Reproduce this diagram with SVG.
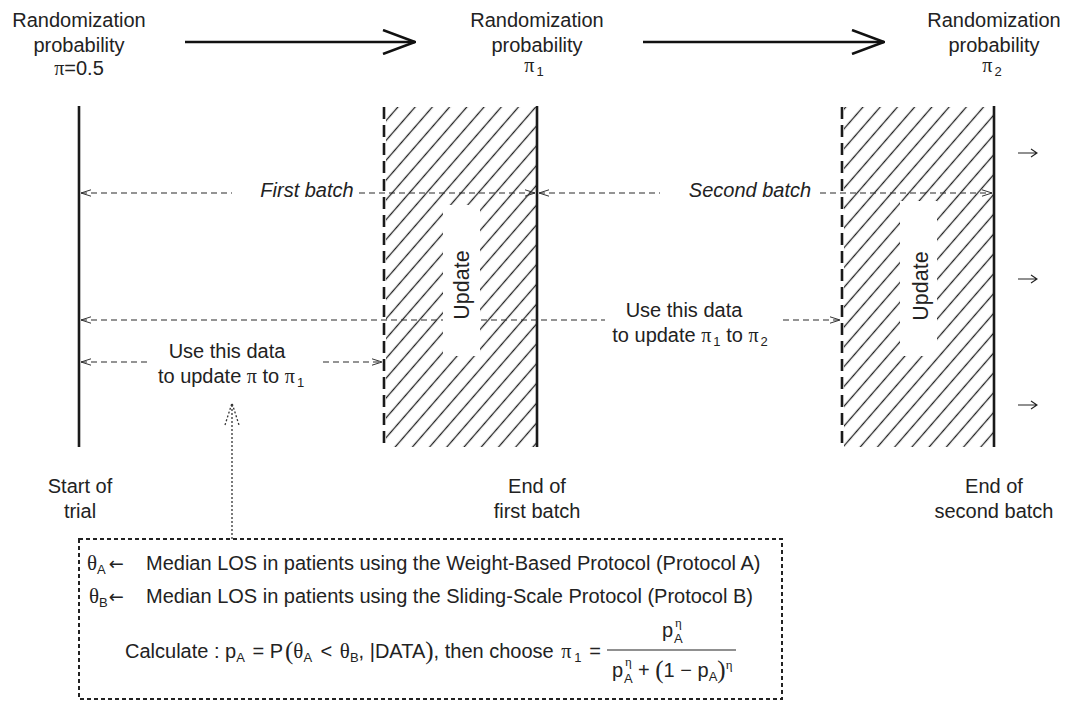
<svg xmlns="http://www.w3.org/2000/svg" width="1070" height="702" viewBox="0 0 1070 702">
<style>
text{font-family:"Liberation Sans",Arial,sans-serif;font-size:20px;fill:#222}
.m{text-anchor:middle}
.i{font-style:italic}
.g{font-family:"Liberation Serif","Times New Roman",serif}
.s{font-size:13px}
.arr{font-family:"DejaVu Sans",sans-serif;font-size:18px}
.big{font-size:25px;font-family:"Liberation Serif",serif}
.solid{stroke:#1a1a1a;stroke-width:2.6;fill:none}
.vdash{stroke:#1a1a1a;stroke-width:2.6;fill:none;stroke-dasharray:12 6}
.conn{stroke:#2a2a2a;stroke-width:1.2;fill:none;stroke-dasharray:6 4;marker-start:url(#ah);marker-end:url(#ah)}
.big-arrow{stroke:#111;stroke-width:2.5;fill:none;marker-end:url(#bigah)}
.dot{stroke:#333;stroke-width:1.3;fill:none;stroke-dasharray:2 2}
.small{stroke:#222;stroke-width:1.1;fill:none}
</style>
<defs>
<pattern id="hatch" patternUnits="userSpaceOnUse" width="13" height="13" patternTransform="rotate(41)">
<line x1="6.5" y1="-1" x2="6.5" y2="14" stroke="#222" stroke-width="1.3"/>
</pattern>
<marker id="ah" viewBox="0 0 10 8" refX="10" refY="4" markerWidth="10" markerHeight="8" markerUnits="userSpaceOnUse" orient="auto-start-reverse">
<path d="M0,0.8 L10,4 L0,7.2" fill="none" stroke="#333" stroke-width="1"/>
</marker>
<marker id="bigah" viewBox="0 0 34 26" refX="33" refY="13" markerWidth="34" markerHeight="26" markerUnits="userSpaceOnUse" orient="auto">
<path d="M1,1 L33,13 L1,25" fill="none" stroke="#111" stroke-width="2.5"/>
</marker>
</defs>
<rect width="1070" height="702" fill="#fff"/>

<g id="label-prob0">
<text class="m" x="79" y="27">Randomization</text>
<text class="m" x="79" y="52">probability</text>
<text class="m" x="79" y="75"><tspan class="g">π</tspan>=0.5</text>
</g>
<g id="label-prob1">
<text class="m" x="537" y="27">Randomization</text>
<text class="m" x="537" y="52">probability</text>
<text class="m" x="534" y="72"><tspan class="g">π</tspan><tspan class="s" dx="2" dy="4">1</tspan></text>
</g>
<g id="label-prob2">
<text class="m" x="994" y="27">Randomization</text>
<text class="m" x="994" y="52">probability</text>
<text class="m" x="992" y="72"><tspan class="g">π</tspan><tspan class="s" dx="2" dy="4">2</tspan></text>
</g>

<g id="start-line">
<line class="solid" x1="79" y1="106" x2="79" y2="447"/>
</g>
<g id="batch1">
<rect x="386" y="107" width="150" height="340" fill="url(#hatch)"/>
<line class="vdash" x1="384" y1="107" x2="384" y2="447"/>
<line class="solid" x1="537" y1="106" x2="537" y2="447"/>
</g>
<g id="batch2">
<rect x="844" y="107" width="149" height="340" fill="url(#hatch)"/>
<line class="vdash" x1="842" y1="107" x2="842" y2="447"/>
<line class="solid" x1="994" y1="106" x2="994" y2="447"/>
</g>

<g id="connectors">
<path class="big-arrow" d="M185,42 H415"/>
<path class="big-arrow" d="M643,42 H884"/>
<path class="conn" d="M81,193 H232 M359,193 H535"/>
<path class="conn" d="M539,193 H660 M820,193 H992"/>
<path class="conn" d="M81,320 H605 M783,320 H840"/>
<path class="conn" d="M81,362 H147 M323,362 H382"/>
<path class="dot" d="M232,539 V404"/>
<path class="dot" d="M225,425 L232,403 L239,425"/>
<path class="small" d="M1018,153 H1037 M1031,149 L1037,153 L1031,157"/>
<path class="small" d="M1018,279 H1037 M1031,275 L1037,279 L1031,283"/>
<path class="small" d="M1018,405 H1037 M1031,401 L1037,405 L1031,409"/>
<text class="m i" x="307" y="197">First batch</text>
<text class="m i" x="750" y="197">Second batch</text>
<text class="m" x="227" y="358">Use this data</text>
<text class="m" x="231" y="383">to update <tspan class="g">π</tspan> to <tspan class="g">π</tspan><tspan class="s" dx="2" dy="4">1</tspan></text>
<text class="m" x="684" y="317">Use this data</text>
<text class="m" x="690" y="342">to update <tspan class="g">π</tspan><tspan class="s" dx="2" dy="4">1</tspan><tspan dy="-4"> to </tspan><tspan class="g">π</tspan><tspan class="s" dx="2" dy="4">2</tspan></text>
</g>

<g id="update1">
<rect x="443" y="205" width="37" height="151" fill="#fff"/>
<text class="m" style="font-size:21.5px" transform="translate(469,285) rotate(-90)">Update</text>
</g>
<g id="update2">
<rect x="900" y="201" width="37" height="155" fill="#fff"/>
<text class="m" style="font-size:21.5px" transform="translate(928,286) rotate(-90)">Update</text>
</g>

<g id="label-start">
<text class="m" x="80" y="493">Start of</text>
<text class="m" x="80" y="518">trial</text>
</g>
<g id="label-end1">
<text class="m" x="537" y="493">End of</text>
<text class="m" x="537" y="518">first batch</text>
</g>
<g id="label-end2">
<text class="m" x="994" y="493">End of</text>
<text class="m" x="994" y="518">second batch</text>
</g>

<g id="formula-box">
<rect x="79" y="539" width="703" height="160" fill="none" stroke="#222" stroke-width="2" stroke-dasharray="4 3"/>
<text x="87" y="570"><tspan class="g" style="font-size:21px">θ</tspan><tspan class="s" dy="4">A</tspan><tspan class="arr" dx="3" dy="-4">←</tspan><tspan x="146">Median LOS in patients using the Weight-Based Protocol (Protocol A)</tspan></text>
<text x="89" y="603"><tspan class="g" style="font-size:21px">θ</tspan><tspan class="s" dy="4">B</tspan><tspan class="arr" dx="1" dy="-4">←</tspan><tspan x="146">Median LOS in patients using the Sliding-Scale Protocol (Protocol B)</tspan></text>
<text x="125" y="658">Calculate : p<tspan class="s" dy="4">A</tspan><tspan dx="2" dy="-4"> = P</tspan><tspan class="big" dx="2" dy="1">(</tspan><tspan class="g" style="font-size:21px" dy="-1">θ</tspan><tspan class="s" dy="4">A</tspan><tspan dx="3" dy="-4"> &lt; </tspan><tspan class="g" dx="2" style="font-size:21px">θ</tspan><tspan class="s" dy="4">B</tspan><tspan dy="-4">, |DATA</tspan><tspan class="big" dy="1">)</tspan><tspan dy="-1">, then choose </tspan><tspan class="g" dx="2">π</tspan><tspan class="s" dx="3" dy="4">1</tspan><tspan dx="2" dy="-4"> =</tspan></text>
<line x1="607" y1="650" x2="736" y2="650" stroke="#222" stroke-width="1.2"/>
<text x="662" y="637">p</text>
<text class="s" x="674" y="643">A</text>
<text class="s g" x="675" y="627">η</text>
<text x="612" y="677">p</text>
<text class="s" x="624" y="683">A</text>
<text class="s g" x="625" y="666">η</text>
<text x="638" y="677">+ <tspan class="big" dy="1">(</tspan><tspan dy="-1">1 − p</tspan><tspan class="s" dy="4">A</tspan><tspan class="big" dy="-3">)</tspan><tspan class="s g" dy="-9">η</tspan></text>
</g>
</svg>
